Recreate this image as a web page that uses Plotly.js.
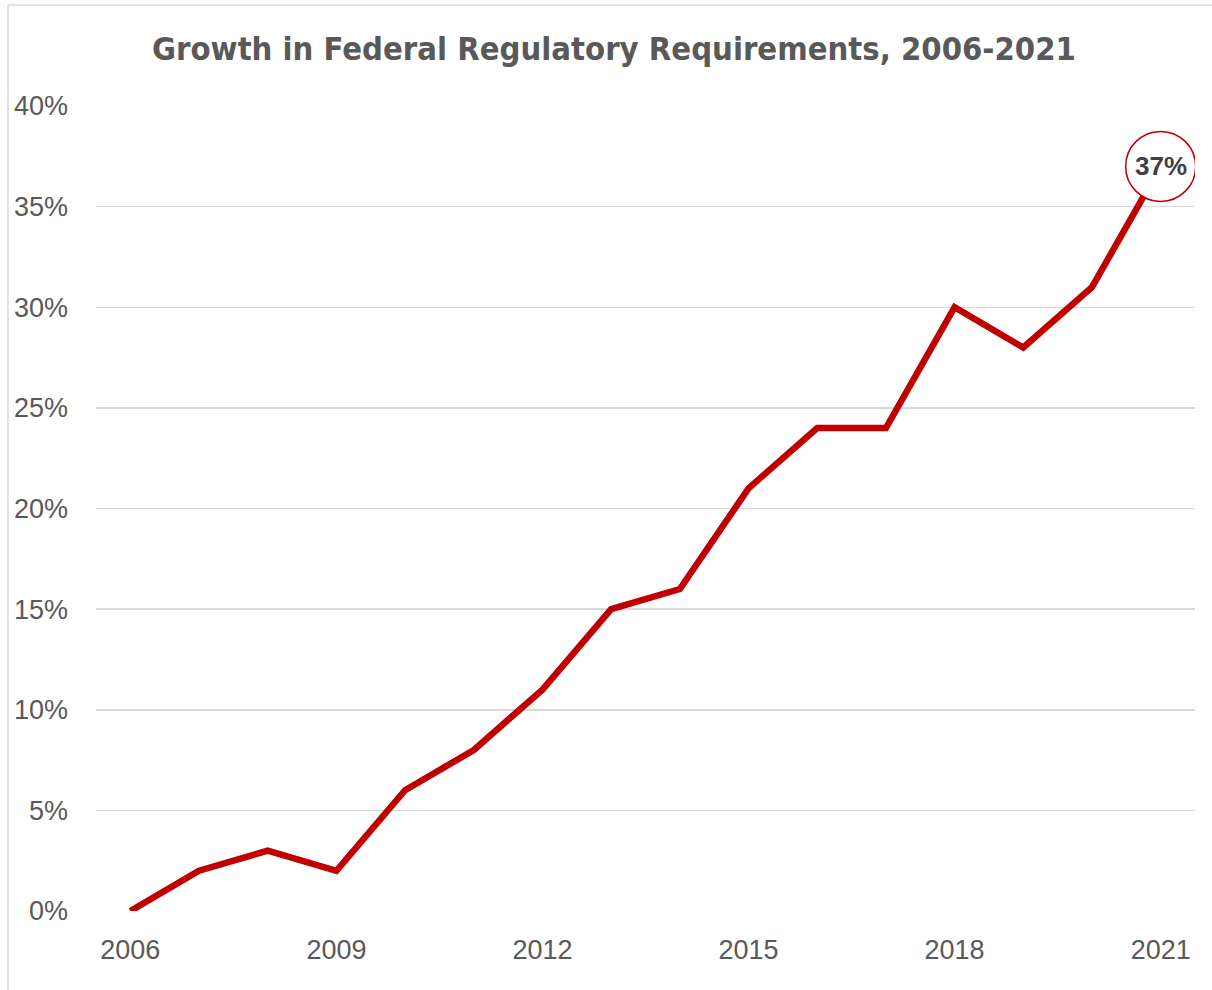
<!DOCTYPE html>
<html>
<head>
<meta charset="utf-8">
<script src="https://cdn.plot.ly/plotly-3.0.1.min.js"></script>
<style>html,body{margin:0;padding:0;background:#fff;}#chart{width:1212px;height:990px;}</style>
</head>
<body>
<div id="chart"></div>
<script>
const years = [2006,2007,2008,2009,2010,2011,2012,2013,2014,2015,2016,2017,2018,2019,2020,2021];
const growth = [0,2,3,2,6,8,11,15,16,21,24,24,30,28,31,37];
const yTickVals = [0,5,10,15,20,25,30,35,40];
const yTickText = ["0%","5%","10%","15%","20%","25%","30%","35%","40%"];
const xTickVals = [2006,2009,2012,2015,2018,2021];
const lastLabel = "37%";
const titleText = "Growth in Federal Regulatory Requirements, 2006-2021";

const W = 1212, H = 990, ml = 96, mr = 17, mt = 106, mb = 79;
const pw = W - ml - mr, ph = H - mt - mb;
const px = v => (v - ml) / pw;
const py = v => 1 - (v - mt) / ph;

const trace = {
  x: years, y: growth, type: 'scatter', mode: 'lines',
  line: {color: '#C00000', width: 6.5}, hoverinfo: 'skip'
};
const layout = {
  width: W, height: H,
  margin: {l: ml, r: mr, t: mt, b: mb},
  paper_bgcolor: '#fff', plot_bgcolor: '#fff',
  showlegend: false,
  title: {text: '<b>' + titleText + '</b>', x: 0.5066, xanchor: 'center', y: 1 - 49/H, yanchor: 'middle',
          font: {family: 'DejaVu Sans Condensed, Roboto, sans-serif', size: 32.5, color: '#595959', stretch: 'condensed'}},
  xaxis: {range: [2005.5, 2021.5], tickvals: xTickVals, ticktext: xTickVals.map(String),
          showgrid: false, zeroline: false, showline: false, ticks: '', ticklen: 0, ticklabelstandoff: 20,
          tickfont: {family: 'Liberation Sans, Arial, sans-serif', size: 27, color: '#595959'}, fixedrange: true},
  yaxis: {range: [0, 40], tickvals: yTickVals, ticktext: yTickText,
          showgrid: true, gridcolor: '#d9d9d9', gridwidth: 1.5, zeroline: false, showline: false,
          ticks: '', ticklabelstandoff: 27,
          tickfont: {family: 'Liberation Sans, Arial, sans-serif', size: 27, color: '#595959'}, fixedrange: true},
  shapes: [
    {type: 'line', xref: 'paper', yref: 'paper', x0: px(8), x1: px(8), y0: py(5), y1: py(990), line: {color: '#e3e3e3', width: 2}, layer: 'below'},
    {type: 'line', xref: 'paper', yref: 'paper', x0: px(8), x1: px(1212), y0: py(5), y1: py(5), line: {color: '#e3e3e3', width: 2}, layer: 'below'},
    {type: 'circle', xref: 'x', yref: 'y', xsizemode: 'pixel', ysizemode: 'pixel',
     xanchor: years[years.length-1], yanchor: growth[growth.length-1], x0: -35, x1: 35, y0: -35, y1: 35,
     fillcolor: '#ffffff', line: {color: '#C00000', width: 1.5}, layer: 'above'}
  ],
  annotations: [
    {x: years[years.length-1], y: growth[growth.length-1], xref: 'x', yref: 'y', text: '<b>' + lastLabel + '</b>',
     showarrow: false, font: {family: 'Liberation Sans, Arial, sans-serif', size: 26, color: '#404040'}}
  ]
};
Plotly.newPlot('chart', [trace], layout, {displayModeBar: false, staticPlot: true});
</script>
</body>
</html>
